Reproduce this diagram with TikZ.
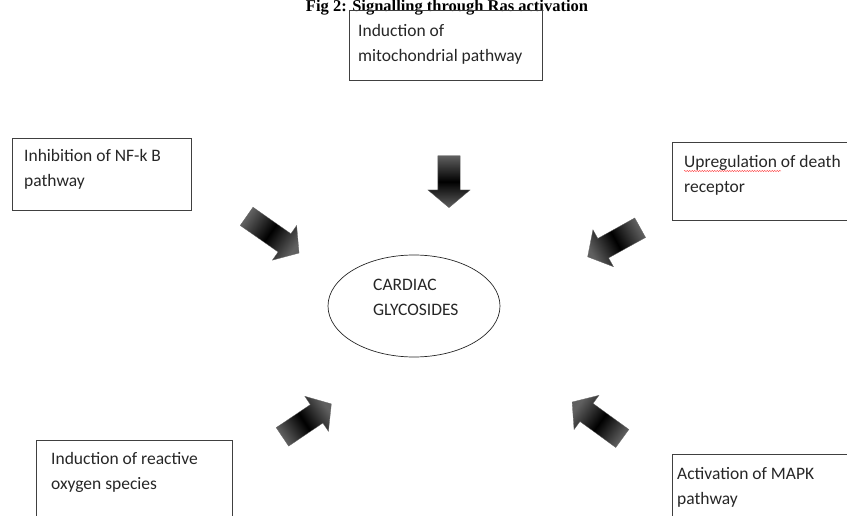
\documentclass[tikz,border=0pt]{standalone}
\usepackage{fontspec}
\setmainfont{Carlito}
\newfontfamily\titlefont{Liberation Serif}
\usetikzlibrary{shapes.geometric,shapes.arrows,decorations.pathmorphing}

\begin{document}
\begin{tikzpicture}[x=1pt,y=-1pt,
    box/.style={draw=black!75,line width=0.8pt,anchor=north west,inner sep=0pt},
    boxtext/.style={anchor=north west,align=left,inner sep=0pt,text=black!85,
      font=\fontsize{17.5}{25}\selectfont},
    bigarrow/.style n args={3}{single arrow,draw=black!60,line width=0.3pt,
      inner xsep=0pt,inner ysep=11pt,minimum height=#1,single arrow head extend=10pt,
      single arrow tip angle=100,
      top color=gray!75!black,bottom color=gray!75!black,middle color=black,
      rotate=#2,shading angle=#3}]
% page edge cuts the boxes
\clip (0,0) rectangle (847,516);
\node[font=\titlefont\bfseries\fontsize{16.5}{18}\selectfont,anchor=base] (title) at (447,12)
  {Fig 2: Signalling through Ras activation};

% boxes
\node[box,minimum width=193pt,minimum height=70pt] (mito) at (349,10) {};
\node[boxtext] (mitotext) at (358,24) {Induction of\\mitochondrial pathway};
\node[box,minimum width=179pt,minimum height=72pt] (nfkb) at (12,138) {};
\node[boxtext] (nfkbtext) at (24,149) {Inhibition of NF-k B\\pathway};
\node[box,minimum width=190pt,minimum height=78pt] (death) at (672,142) {};
\node[boxtext] (deathtext) at (684,155) {Upregulation of death\\receptor};
\node[box,minimum width=196pt,minimum height=90pt] (ros) at (36,440) {};
\node[boxtext] (rostext) at (51,452) {Induction of reactive\\oxygen species};
\node[box,minimum width=190pt,minimum height=80pt] (mapk) at (672,454) {};
\node[boxtext] (mapktext) at (677,467) {Activation of MAPK\\pathway};

% spell check mark
\draw[red!80,line width=0.4pt,decorate,decoration={snake,amplitude=0.6pt,segment length=2.5pt}]
  ([shift={(0,16)}]deathtext.north west) -- ++(97,0);

% centre
\node[ellipse,draw=black!85,line width=0.7pt,minimum width=172pt,minimum height=102pt,inner sep=0pt]
  (cg) at (414,306) {};
\node[boxtext] (cgtext) at (373,279) {CARDIAC\\GLYCOSIDES};

% block arrows
\node[bigarrow={52pt}{-90}{0}] (a1) at (449,177) {};
\node[bigarrow={64pt}{-35}{55}] (a2) at (269,232) {};
\node[bigarrow={60pt}{209}{299}] (a3) at (618,240) {};
\node[bigarrow={59pt}{34}{124}] (a4) at (303,423) {};
\node[bigarrow={62pt}{144}{234}] (a5) at (601,423) {};
\end{tikzpicture}
\end{document}
